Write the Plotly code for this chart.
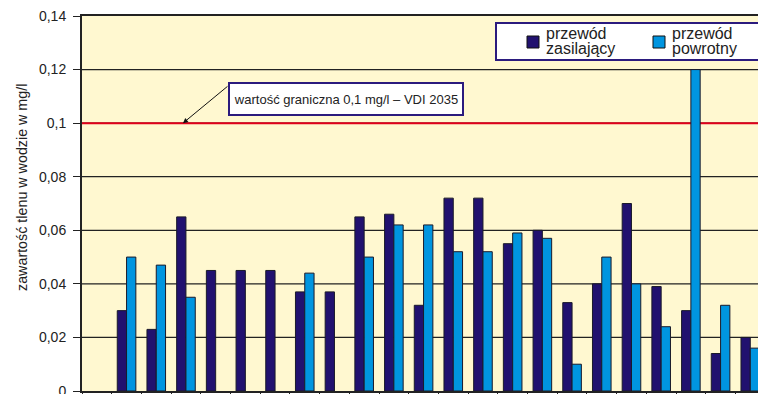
import plotly.graph_objects as go

# Measurement points (x-axis categories) and oxygen content in mg/l
punkty = list(range(1, 23))
zasilajacy = [0.030, 0.023, 0.065, 0.045, 0.045, 0.045, 0.037, 0.037, 0.065, 0.066, 0.032,
              0.072, 0.072, 0.055, 0.060, 0.033, 0.040, 0.070, 0.039, 0.030, 0.014, 0.020]
powrotny = [0.050, 0.047, 0.035, None, None, None, 0.044, None, 0.050, 0.062, 0.062,
            0.052, 0.052, 0.059, 0.057, 0.010, 0.050, 0.040, 0.024, 0.120, 0.032, 0.016]
nazwy_serii = [["przewód", "zasilający"], ["przewód", "powrotny"]]
wartosc_graniczna = 0.1
opis_granicy = "wartość graniczna 0,1 mg/l – VDI 2035"
tytul_osi_y = "zawartość tlenu w wodzie w mg/l"
y_ticks = [0, 0.02, 0.04, 0.06, 0.08, 0.10, 0.12, 0.14]

FONT = "Arial, Liberation Sans, sans-serif"
DARK = "#21116F"
LIGHT = "#0095E0"
OUTLINE = "#1A1A2A"
INK = "#222222"
FRAME = "#2B1B7E"

# plot area in pixels (used to place the legend block in paper coordinates)
W, H = 758, 394
ML, MT, MB = 82, 16, 3
PW, PH = W - ML, H - MT - MB


def px_x(p):
    return (p - ML) / PW


def px_y(p):
    return (H - MB - p) / PH


fig = go.Figure()
colors = [DARK, LIGHT]
for nazwa, wartosci, kolor in zip(nazwy_serii, [zasilajacy, powrotny], colors):
    fig.add_trace(go.Bar(x=punkty, y=wartosci, name=" ".join(nazwa), showlegend=False,
                         marker=dict(color=kolor, line=dict(color=OUTLINE, width=1))))

# horizontal grid lines, drawn under the bars
for v in y_ticks[1:-1]:
    fig.add_shape(type="line", xref="paper", x0=0, x1=1, yref="y", y0=v, y1=v,
                  line=dict(color=INK, width=1.3), layer="below")

# limit value line
fig.add_shape(type="line", xref="paper", x0=0, x1=1, yref="y",
              y0=wartosc_graniczna, y1=wartosc_graniczna,
              line=dict(color="#E2001A", width=2), layer="below")

# label box for the limit value
fig.add_annotation(xref="paper", x=px_x(346), yref="paper", y=px_y(82),
                   text=opis_granicy, showarrow=False,
                   font=dict(family=FONT, size=13, color=INK),
                   bgcolor="white", bordercolor=FRAME, borderwidth=2, borderpad=0,
                   width=232, height=30, align="center")
# arrow pointing from the label box to the line
fig.add_annotation(x=2.90, y=wartosc_graniczna, xref="x", yref="y",
                   text="", showarrow=True, ax=46, ay=-38,
                   arrowhead=2, arrowsize=1, arrowwidth=1, arrowcolor="#111111")

# legend block
fig.add_shape(type="rect", xref="paper", yref="paper",
              x0=px_x(496), x1=px_x(790), y0=px_y(60), y1=px_y(23),
              fillcolor="white", line=dict(color=FRAME, width=2), layer="above")
for nazwa, kolor, sx in zip(nazwy_serii, colors, [527, 653]):
    fig.add_shape(type="rect", xref="paper", yref="paper",
                  x0=px_x(sx), x1=px_x(sx + 12), y0=px_y(48), y1=px_y(36),
                  fillcolor=kolor, line=dict(color="#111111", width=1), layer="above")
    for linia, ly in zip(nazwa, [33, 49]):
        fig.add_annotation(xref="paper", yref="paper", x=px_x(sx + 18), y=px_y(ly),
                           xanchor="left", yanchor="middle", showarrow=False,
                           text=linia, borderpad=0,
                           font=dict(family=FONT, size=16, color=INK))

# rotated y-axis title
fig.add_annotation(xref="paper", x=px_x(22), yref="paper", y=px_y(188),
                   text=tytul_osi_y, textangle=-90, showarrow=False,
                   xanchor="center", yanchor="middle",
                   font=dict(family=FONT, size=14.3, color=INK))

fig.update_layout(
    width=W, height=H,
    margin=dict(l=ML, r=0, t=MT, b=MB, pad=0, autoexpand=False),
    paper_bgcolor="white",
    plot_bgcolor="#FFF8D0",
    separators=", ",
    barmode="group", bargap=0.374, bargroupgap=0,
    font=dict(family=FONT, size=14, color=INK),
    showlegend=False,
    xaxis=dict(range=[-0.5, 22.26], showgrid=False, zeroline=False, automargin=False,
               tickmode="linear", tick0=0.5, dtick=1, ticks="outside", ticklen=5,
               tickcolor=INK, tickwidth=1, showticklabels=False,
               showline=True, linecolor=INK, linewidth=2, mirror=True),
    yaxis=dict(range=[0, 0.14], tickvals=y_ticks, ticks="outside", ticklen=7,
               tickcolor=INK, tickwidth=1, ticklabelstandoff=4, automargin=False,
               ticklabeloverflow="allow",
               showgrid=False, zeroline=False,
               showline=True, linecolor=INK, linewidth=2,
               tickfont=dict(family=FONT, size=14, color=INK)),
)

fig.write_html("out.html")
